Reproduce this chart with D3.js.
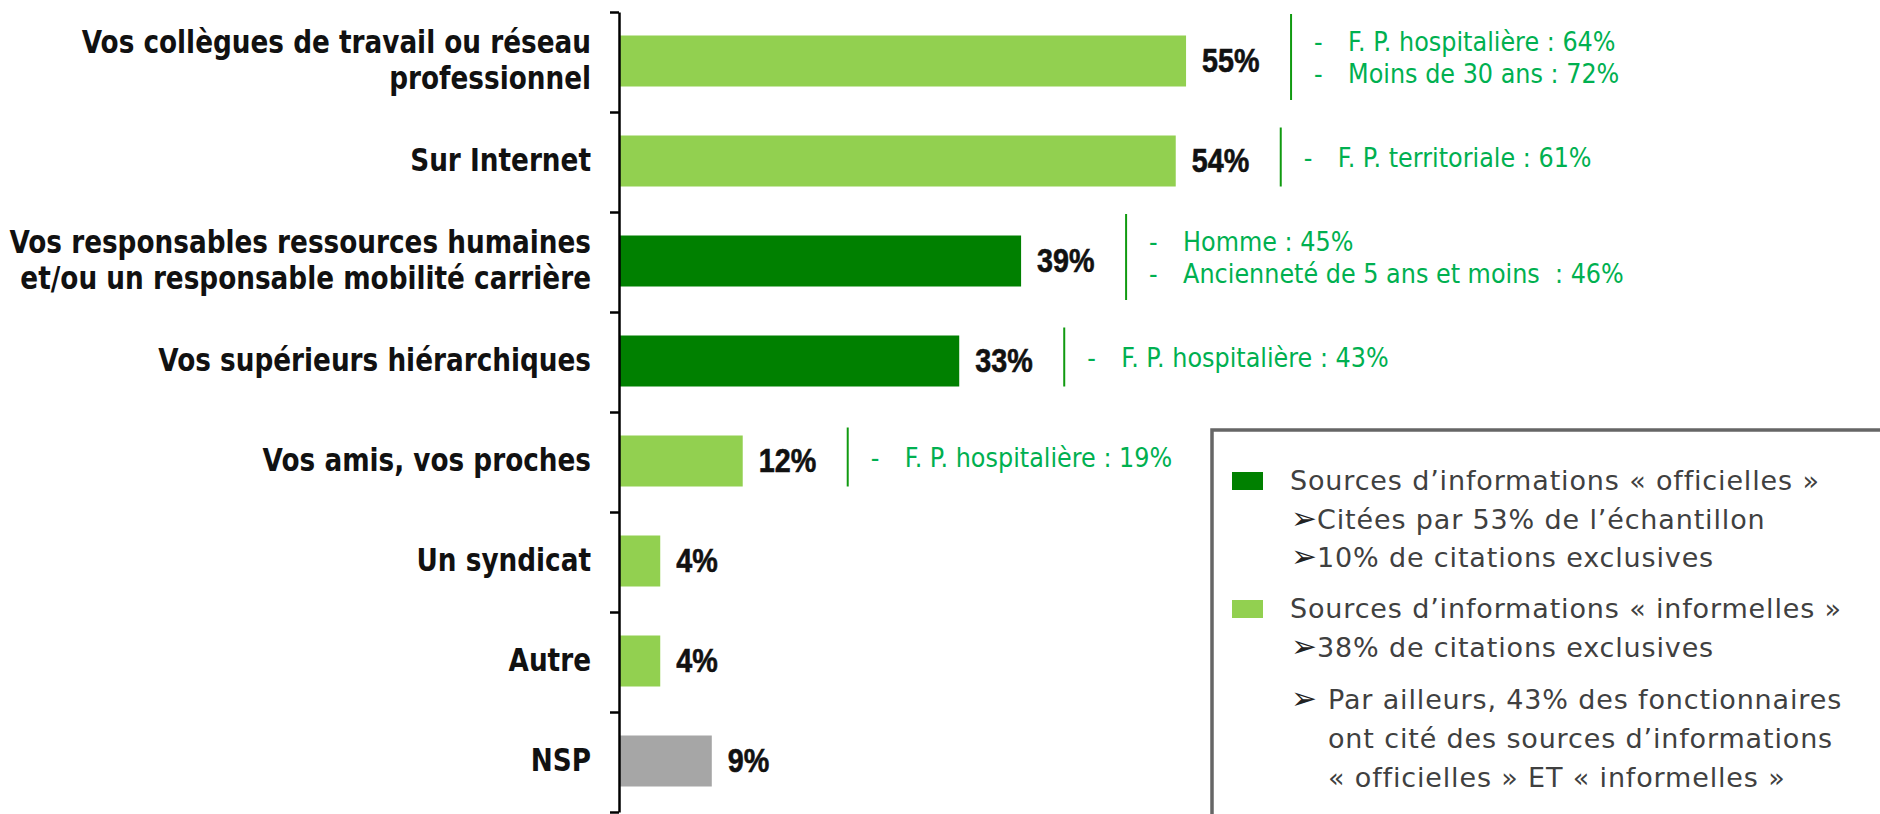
<!DOCTYPE html>
<html>
<head>
<meta charset="utf-8">
<script src="https://cdn.jsdelivr.net/npm/d3@7"></script>
<style>
  html, body { margin: 0; padding: 0; background: #ffffff; }
  svg { display: block; }
  text { white-space: pre; }
</style>
</head>
<body>
<svg id="chart" width="1880" height="814"></svg>
<script>
// ---------------- DATA ----------------
const categories = [
  "Vos collègues de travail ou réseau\nprofessionnel",
  "Sur Internet",
  "Vos responsables ressources humaines\net/ou un responsable mobilité carrière",
  "Vos supérieurs hiérarchiques",
  "Vos amis, vos proches",
  "Un syndicat",
  "Autre",
  "NSP"
];
const values = [55, 54, 39, 33, 12, 4, 4, 9];
const sourceTypes = ["informelle", "informelle", "officielle", "officielle", "informelle", "informelle", "informelle", "nsp"];
const subgroupNotes = [
  ["F. P. hospitalière : 64%", "Moins de 30 ans : 72%"],
  ["F. P. territoriale : 61%"],
  ["Homme : 45%", "Ancienneté de 5 ans et moins  : 46%"],
  ["F. P. hospitalière : 43%"],
  ["F. P. hospitalière : 19%"],
  [],
  [],
  []
];
const legendTypes = ["officielle", "informelle"];
const legendLines = [
  ["Sources d’informations « officielles »", "➢Citées par 53% de l’échantillon", "➢10% de citations exclusives"],
  ["Sources d’informations « informelles »", "➢38% de citations exclusives"]
];
const noteLines = ["Par ailleurs, 43% des fonctionnaires", "ont cité des sources d’informations", "« officielles » ET « informelles »"];

// ---------------- STYLE / LAYOUT ----------------
const W = 1880, H = 814;
const axisX = 619, plotTop = 12, plotBottom = 812;
const pxPerPct = 10.31;

const color = d3.scaleOrdinal()
  .domain(["officielle", "informelle", "nsp"])
  .range(["#008000", "#92D050", "#A6A6A6"]);

const svg = d3.select("#chart");
svg.append("rect").attr("width", W).attr("height", H).attr("fill", "#ffffff");

const rows = categories.map((c, i) => ({
  cat: c, value: values[i], type: sourceTypes[i], notes: subgroupNotes[i]
}));

const y = d3.scaleBand().domain(categories).range([plotTop, plotBottom]).paddingInner(0).paddingOuter(0);
const x = d3.scaleLinear().domain([0, 100]).range([axisX, axisX + 100 * pxPerPct]);
const bw = y.bandwidth();

// ---------------- BARS ----------------
svg.append("g").selectAll("rect")
  .data(rows).join("rect")
  .attr("x", x(0))
  .attr("y", d => y(d.cat) + bw * 0.235)
  .attr("width", d => x(d.value) - x(0))
  .attr("height", bw * 0.51)
  .attr("fill", d => color(d.type));

// ---------------- AXIS ----------------
const yIdx = d3.scaleLinear().domain([0, categories.length]).range([plotTop, plotBottom]);
const axisG = svg.append("g")
  .attr("transform", `translate(${axisX},0)`)
  .call(d3.axisLeft(yIdx).tickValues(d3.range(categories.length + 1)).tickFormat("").tickSizeInner(9).tickSizeOuter(0));
axisG.selectAll("path, line").attr("stroke", "#000").attr("stroke-width", 2.5);

// ---------------- CATEGORY LABELS ----------------
const catLabelSX = 0.822;
const catG = svg.append("g");
rows.forEach(d => {
  const lines = d.cat.split("\n");
  const n = lines.length;
  const cy = y(d.cat) + bw / 2;
  lines.forEach((ln, i) => {
    const by = cy + 8.7 + (i - (n - 1) / 2) * 36;
    catG.append("text")
      .attr("transform", `translate(${axisX - 28},${by}) scale(${catLabelSX},1)`)
      .attr("text-anchor", "end")
      .attr("font-family", "DejaVu Sans")
      .attr("font-weight", "bold")
      .attr("font-size", 32)
      .attr("fill", "#111")
      .text(ln);
  });
});

// ---------------- VALUE LABELS ----------------
svg.append("g").selectAll("text")
  .data(rows).join("text")
  .attr("transform", d => `translate(${x(d.value) + 16},${y(d.cat) + bw * 0.49 + 11}) scale(0.87,1)`)
  .attr("font-family", "Liberation Sans")
  .attr("font-weight", "bold")
  .attr("font-size", 33)
  .attr("fill", "#111")
  .attr("stroke", "#111")
  .attr("stroke-width", 0.6)
  .text(d => d3.format(".0f")(d.value) + "%");

// ---------------- SUBGROUP NOTES ----------------
const noteG = svg.append("g");
rows.filter(d => d.notes.length).forEach(d => {
  const n = d.notes.length;
  const cy = y(d.cat) + bw / 2 - 5;
  const half = 16 + 13.5 * n;
  const lx = x(d.value) + 105;
  noteG.append("line")
    .attr("x1", lx).attr("x2", lx)
    .attr("y1", cy - half).attr("y2", cy + half)
    .attr("stroke", "#109a10").attr("stroke-width", 2);
  d.notes.forEach((t, i) => {
    const by = cy + 9.5 + (i - (n - 1) / 2) * 32;
    noteG.append("text")
      .attr("transform", `translate(${lx + 23},${by}) scale(0.92,1)`)
      .attr("font-family", "DejaVu Sans").attr("font-size", 26)
      .attr("fill", "#00B050").text("-");
    noteG.append("text")
      .attr("transform", `translate(${lx + 57},${by}) scale(0.92,1)`)
      .attr("font-family", "DejaVu Sans").attr("font-size", 26)
      .attr("fill", "#00B050").text(t);
  });
});

// ---------------- LEGEND BOX ----------------
const lg = svg.append("g");
lg.append("rect")
  .attr("x", 1212).attr("y", 430)
  .attr("width", 720).attr("height", 440)
  .attr("fill", "#ffffff")
  .attr("stroke", "#666666").attr("stroke-width", 3.5);

const legendFont = { family: "DejaVu Sans", size: 27, fill: "#404040", ls: 0.85 };

function legendText(sel, str) {
  // leading arrow drawn a bit larger and darker, as in the reference
  if (str.startsWith("➢")) {
    sel.append("tspan").attr("font-size", 31).attr("fill", "#222").attr("letter-spacing", 0).text("➢");
    sel.append("tspan").text(str.slice(1));
  } else {
    sel.text(str);
  }
}

const entryBaselines = [490, 618];
legendTypes.forEach((t, k) => {
  const b0 = entryBaselines[k];
  lg.append("rect")
    .attr("x", 1232).attr("y", b0 - 18)
    .attr("width", 31).attr("height", 18)
    .attr("fill", color(t));
  legendLines[k].forEach((ln, i) => {
    const tx = lg.append("text")
      .attr("x", i === 0 ? 1290 : 1291)
      .attr("y", b0 + i * 38.5)
      .attr("font-family", legendFont.family)
      .attr("font-size", legendFont.size)
      .attr("letter-spacing", legendFont.ls)
      .attr("fill", legendFont.fill);
    legendText(tx, ln);
  });
});
lg.append("text")
  .attr("x", 1291).attr("y", 709)
  .attr("font-family", legendFont.family)
  .attr("font-size", 31)
  .attr("fill", "#222")
  .text("➢");
noteLines.forEach((ln, i) => {
  lg.append("text")
    .attr("x", 1328).attr("y", 709 + i * 39)
    .attr("font-family", legendFont.family)
    .attr("font-size", legendFont.size)
    .attr("letter-spacing", legendFont.ls)
    .attr("fill", legendFont.fill)
    .text(ln);
});
</script>
</body>
</html>
